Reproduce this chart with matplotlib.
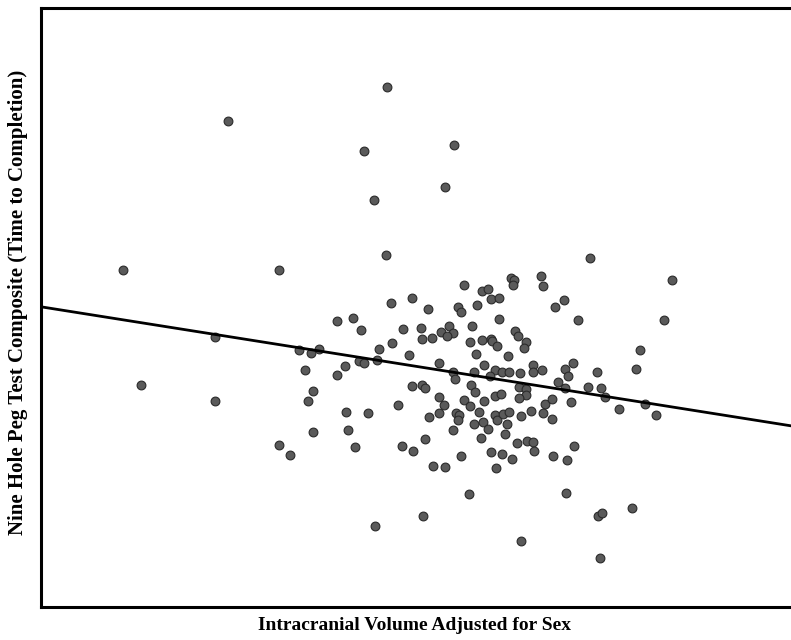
import matplotlib
matplotlib.use("Agg")
import matplotlib.pyplot as plt
import numpy as np

# Values (arbitrary units, no tick labels in the original)
icv = [387, 228, 364, 454, 374, 445, 386, 123, 279, 590, 672, 215, 141, 215, 279, 290,
       464, 511, 514, 513, 541, 543, 482, 488, 491, 499, 391, 412, 428, 458, 461, 477,
       499, 337, 353, 361, 403, 421, 422, 432, 441, 449, 453, 447, 472, 470, 482, 491,
       492, 497, 515, 518, 526, 524, 476, 508, 484, 495, 502, 509, 520, 533, 533, 542,
       392, 379, 409, 439, 453, 455, 474, 490, 471, 475, 519, 526, 526, 519, 495, 501,
       484, 464, 439, 444, 412, 422, 425, 398, 299, 311, 319, 359, 364, 377, 345, 337,
       305, 313, 308, 545, 552, 571, 470, 564, 555, 578, 664, 640, 636, 573, 565, 568,
       597, 558, 565, 588, 601, 605, 619, 645, 656, 552, 543, 574, 553, 567, 566, 598,
       602, 632, 600, 346, 368, 313, 348, 355, 402, 413, 425, 439, 429, 456, 459, 458,
       479, 474, 483, 488, 481, 453, 495, 497, 503, 509, 507, 505, 521, 531, 517, 527,
       533, 534, 491, 502, 512, 461, 433, 445, 496, 469, 423, 375, 521]

nhpt = [553, 519, 489, 495, 440, 453, 385, 370, 370, 382, 360, 303, 255, 239, 195, 185,
        355, 362, 360, 355, 364, 354, 349, 351, 341, 342, 337, 342, 331, 333, 328, 335,
        321, 319, 322, 310, 311, 312, 301, 302, 308, 314, 307, 304, 314, 298, 300, 301,
        299, 294, 309, 304, 298, 292, 286, 284, 275, 270, 268, 268, 267, 275, 268, 270,
        297, 291, 285, 277, 268, 261, 268, 264, 255, 248, 253, 251, 245, 242, 244, 246,
        239, 240, 243, 235, 254, 255, 252, 235, 290, 287, 291, 279, 277, 280, 274, 265,
        270, 249, 239, 236, 241, 238, 234, 340, 333, 320, 320, 290, 271, 277, 271, 264,
        268, 258, 252, 253, 252, 243, 231, 236, 225, 221, 227, 194, 184, 180, 147, 124,
        127, 132, 82, 228, 227, 208, 210, 193, 194, 189, 201, 227, 223, 227, 225, 220,
        228, 216, 218, 211, 202, 210, 225, 220, 226, 228, 216, 206, 224, 229, 197, 199,
        198, 189, 188, 186, 181, 184, 174, 173, 172, 146, 124, 114, 99]

# Fit line
fit_intercept = 339.7
fit_slope = -0.1587

x_label = "Intracranial Volume Adjusted for Sex"
y_label = "Nine Hole Peg Test Composite (Time to Completion)"

W, H = 791, 640
fig = plt.figure(figsize=(W / 100, H / 100), dpi=100)
ax = fig.add_axes([41 / W, 33 / H, 754 / W, 599 / H])

ax.scatter(icv, nhpt, s=40, facecolor="#5a5a5a", edgecolor="#2a2a2a",
           linewidths=0.8, zorder=3)

xl = np.array([41, 795])
ax.plot(xl, fit_intercept + fit_slope * xl, color="black", lw=2.0, zorder=4)

ax.set_xlim(41, 795)
ax.set_ylim(33, 632)
ax.set_xticks([])
ax.set_yticks([])
for side in ["left", "bottom", "top", "right"]:
    ax.spines[side].set_linewidth(2.2)
    ax.spines[side].set_color("black")

ax.set_xlabel(x_label, family="Liberation Serif", weight="bold", size=14)
ax.set_ylabel(y_label, family="Liberation Serif", weight="bold", size=15)
ax.xaxis.set_label_coords((415 - 41) / 754, (607 - 617) / 599)
ax.yaxis.set_label_coords((28 - 41) / 754, (607 - 302) / 599)

fig.savefig("out.png", dpi=100)
